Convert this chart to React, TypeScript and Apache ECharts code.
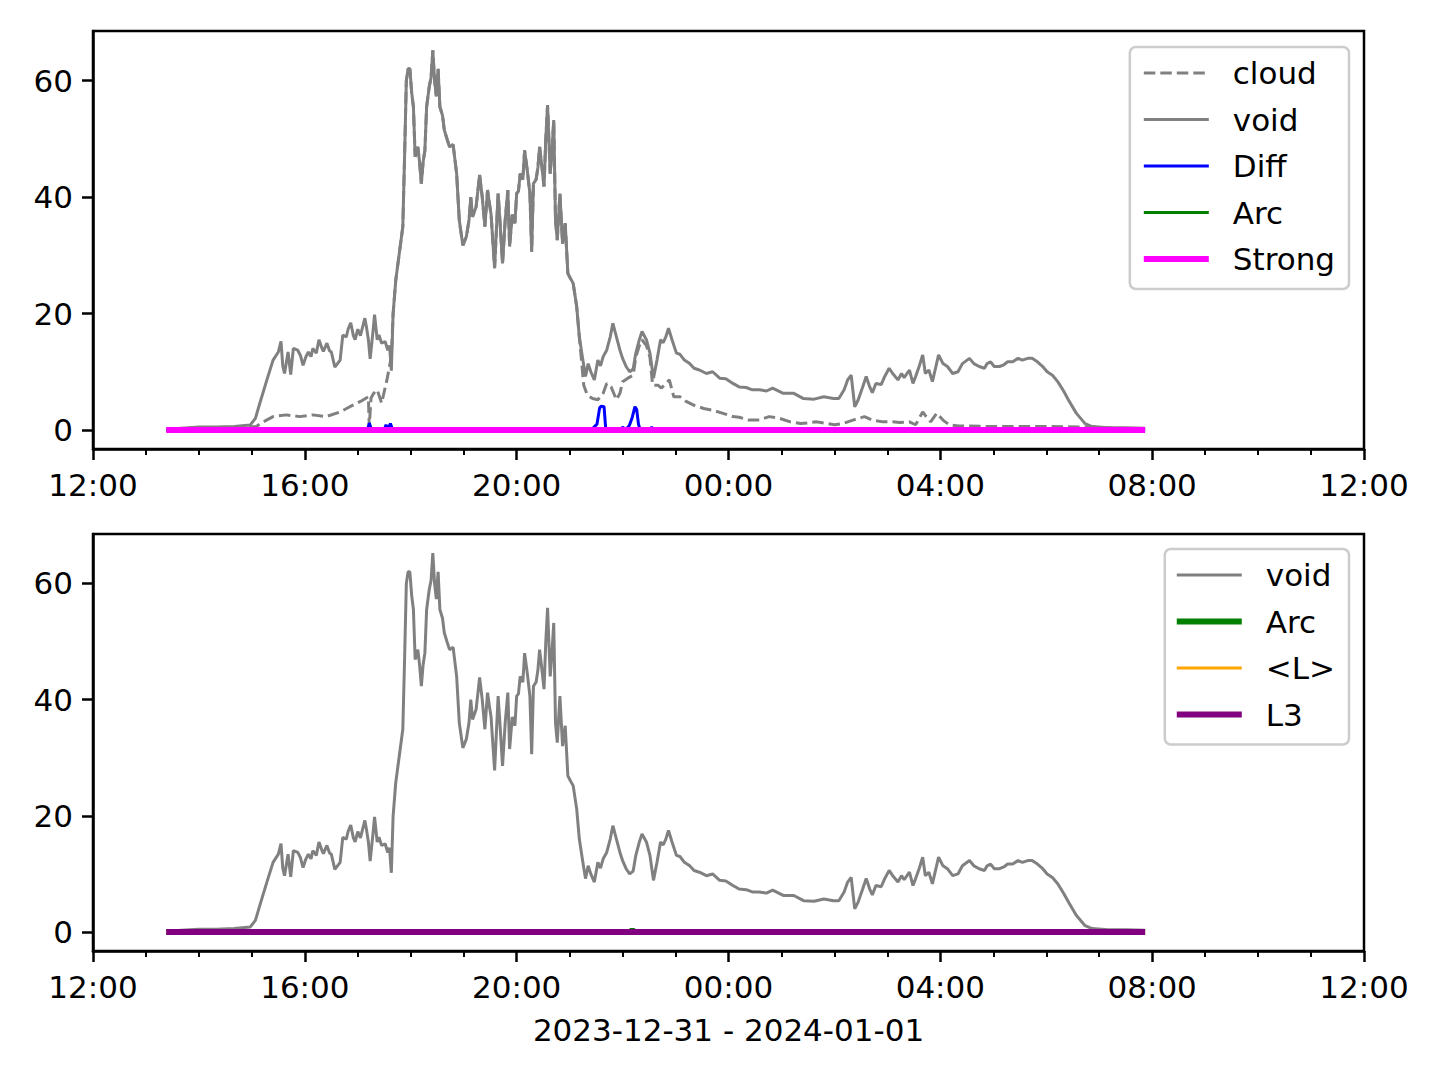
import React, { useEffect, useRef } from "react";
import * as echarts from "echarts";

// ---- data (time "HH:MM", value) ----
const voidData: [string, number][] = [
  ["13:23", 0.1], ["13:40", 0.3], ["14:00", 0.5], ["14:20", 0.5], ["14:40", 0.6], ["14:58", 0.85],
  ["15:04", 2.0], ["15:09", 4.6], ["15:17", 8.6], ["15:24", 12], ["15:30", 13.4], ["15:33", 15.2],
  ["15:35", 11], ["15:37", 9.7], ["15:41", 13.4], ["15:44", 9.5], ["15:47", 14], ["15:52", 13.7],
  ["15:55", 12.8], ["15:58", 11.1], ["16:01", 12.5], ["16:04", 13.4], ["16:07", 12.6], ["16:09", 14],
  ["16:13", 13.2], ["16:16", 15.5], ["16:19", 14.2], ["16:21", 13.5], ["16:25", 14.9], ["16:28", 13.6],
  ["16:30", 13.4], ["16:34", 10.8], ["16:37", 11.4], ["16:40", 12], ["16:43", 16.3], ["16:47", 16],
  ["16:49", 17.3], ["16:52", 18.4], ["16:55", 16.2], ["16:57", 15.5], ["17:00", 17.3], ["17:03", 16.2],
  ["17:06", 18], ["17:08", 19.2], ["17:10", 17.5], ["17:12", 15.5], ["17:14", 12.2], ["17:17", 16.6],
  ["17:19", 19.8], ["17:22", 15.5], ["17:24", 16.3], ["17:27", 14.9], ["17:31", 15.2], ["17:34", 13.7],
  ["17:36", 14.5], ["17:38", 10.2], ["17:40", 19.9], ["17:43", 25.7], ["17:47", 30.3], ["17:51", 34.9],
  ["17:53", 46.9], ["17:55", 60], ["17:57", 62], ["17:59", 62], ["18:01", 58], ["18:03", 55.5],
  ["18:05", 46.9], ["18:08", 48.6], ["18:10", 46], ["18:12", 42.3], ["18:14", 46], ["18:16", 48],
  ["18:18", 55.5], ["18:21", 59], ["18:23", 60.5], ["18:25", 65.2], ["18:27", 60], ["18:29", 57.3],
  ["18:31", 62], ["18:33", 55.5], ["18:36", 54], ["18:38", 51.5], ["18:41", 50], ["18:44", 48.6],
  ["18:48", 49], ["18:52", 44], ["18:55", 36], ["18:59", 31.7], ["19:03", 33.2], ["19:06", 36],
  ["19:08", 40], ["19:10", 36.6], ["19:14", 38.3], ["19:16", 41], ["19:18", 43.8], ["19:21", 40],
  ["19:24", 34.9], ["19:27", 41.2], ["19:29", 39], ["19:31", 37], ["19:35", 27.8], ["19:39", 40.6],
  ["19:41", 36], ["19:44", 28.6], ["19:47", 36], ["19:50", 41.2], ["19:52", 31.5], ["19:55", 37],
  ["19:58", 35.5], ["20:00", 40.6], ["20:02", 41], ["20:04", 44], ["20:07", 43], ["20:09", 48],
  ["20:12", 44.6], ["20:15", 40.6], ["20:17", 30.6], ["20:19", 42.3], ["20:22", 43], ["20:24", 45],
  ["20:26", 48.6], ["20:28", 46], ["20:31", 41.8], ["20:33", 50], ["20:35", 55.8], ["20:38", 44],
  ["20:40", 48], ["20:42", 53.2], ["20:44", 36], ["20:46", 32.6], ["20:49", 40.6], ["20:52", 32],
  ["20:55", 35.5], ["20:58", 26.9], ["21:01", 26], ["21:04", 25.2], ["21:08", 21.2], ["21:11", 16],
  ["21:15", 12], ["21:18", 9.2], ["21:21", 11.4], ["21:24", 10], ["21:28", 8.6], ["21:32", 12],
  ["21:35", 11], ["21:38", 12.6], ["21:42", 13.7], ["21:46", 16], ["21:49", 18.3], ["21:53", 16],
  ["21:57", 13.7], ["22:00", 12.3], ["22:04", 10.9], ["22:08", 10], ["22:12", 10.5], ["22:15", 13.2],
  ["22:19", 15.5], ["22:22", 16.9], ["22:27", 15.5], ["22:31", 13.2], ["22:35", 8.9], ["22:39", 12],
  ["22:43", 15.5], ["22:46", 15], ["22:49", 16], ["22:52", 17.5], ["22:56", 15.5], ["23:01", 13.2],
  ["23:05", 13], ["23:10", 12], ["23:16", 11.4], ["23:21", 10.6], ["23:27", 10.3], ["23:35", 9.7],
  ["23:42", 10], ["23:50", 8.9], ["23:57", 8.8], ["00:05", 8], ["00:12", 7.4], ["00:20", 7.3],
  ["00:27", 6.9], ["00:35", 6.9], ["00:43", 6.7], ["00:50", 7.2], ["00:58", 6.6], ["01:02", 6.3],
  ["01:14", 6.3], ["01:25", 5.4], ["01:37", 5.3], ["01:48", 5.7], ["01:59", 5.4], ["02:05", 5.4],
  ["02:11", 6.9], ["02:15", 8.6], ["02:19", 9.4], ["02:23", 4], ["02:27", 5.2], ["02:32", 7.4],
  ["02:36", 9.2], ["02:40", 7.4], ["02:43", 6.4], ["02:47", 8], ["02:53", 7.8], ["02:57", 9.2],
  ["03:02", 10.6], ["03:06", 9.7], ["03:12", 8.6], ["03:16", 9.7], ["03:19", 9], ["03:25", 10.3],
  ["03:29", 8], ["03:32", 9.2], ["03:36", 10.9], ["03:40", 12.9], ["03:43", 9.7], ["03:47", 10.3],
  ["03:51", 8.3], ["03:55", 10.9], ["03:58", 12.9], ["04:03", 11.4], ["04:08", 10.9], ["04:14", 9.7],
  ["04:20", 10], ["04:25", 11.4], ["04:33", 12.3], ["04:38", 11.4], ["04:44", 10.9], ["04:50", 10.6],
  ["04:53", 11.4], ["04:57", 11.7], ["05:01", 10.9], ["05:07", 10.9], ["05:12", 11.2], ["05:16", 11.7],
  ["05:22", 11.7], ["05:28", 12.3], ["05:33", 12], ["05:39", 12.3], ["05:44", 12.3], ["05:50", 11.7],
  ["05:56", 10.9], ["06:01", 10], ["06:07", 9.4], ["06:13", 8.3], ["06:20", 6.6], ["06:25", 5.2],
  ["06:34", 2.9], ["06:44", 1.1], ["06:52", 0.6], ["07:10", 0.4], ["07:30", 0.4], ["07:52", 0.3],
];

const cloudEarly: [string, number][] = [
  ["13:23", 0.1], ["14:00", 0.3], ["14:40", 0.4], ["15:05", 0.6], ["15:13", 1.4], ["15:24", 2.3],
  ["15:39", 2.6], ["15:54", 2.3], ["16:09", 2.6], ["16:24", 2.3], ["16:40", 3.1], ["16:51", 4.0],
  ["17:03", 4.9], ["17:12", 5.7], ["17:13", 0.6], ["17:15", 5.5], ["17:18", 6.3], ["17:22", 6.9],
  ["17:27", 4.6], ["17:33", 8.6], ["17:38", 12.6],
];

const cloudLate: [string, number][] = [
  ["21:16", 7.7], ["21:20", 6], ["21:26", 5.4], ["21:32", 5.2], ["21:38", 6.3], ["21:42", 8],
  ["21:47", 7.4], ["21:53", 5.2], ["21:57", 6.3], ["22:00", 8.3], ["22:06", 8.9], ["22:12", 9.4],
  ["22:15", 12.5], ["22:19", 14.5], ["22:22", 15.5], ["22:27", 14.5], ["22:31", 12.5], ["22:34", 7.7],
  ["22:40", 7.7], ["22:44", 7.2], ["22:53", 8.6], ["22:58", 5.7], ["23:05", 5.7], ["23:12", 4.9],
  ["23:20", 4.3], ["23:32", 3.7], ["23:42", 3.4], ["23:53", 2.9], ["00:05", 2.3], ["00:12", 2.2],
  ["00:23", 1.7], ["00:35", 1.7], ["00:46", 2.3], ["00:58", 2.0], ["01:10", 1.4], ["01:22", 1.1],
  ["01:40", 1.4], ["02:00", 0.9], ["02:09", 1.1], ["02:21", 1.7], ["02:34", 2.3], ["02:43", 1.7],
  ["02:55", 1.4], ["03:06", 1.4], ["03:14", 1.3], ["03:25", 1.4], ["03:32", 0.9], ["03:40", 3.1],
  ["03:44", 2.3], ["03:49", 1.4], ["03:56", 2.9], ["04:03", 1.7], ["04:10", 0.9], ["04:21", 0.7],
  ["05:00", 0.6], ["06:00", 0.6], ["06:50", 0.5], ["07:20", 0.3], ["07:52", 0.2],
];

const diffData: [string, number][] = [
  ["13:23", 0], ["17:11", 0], ["17:13", 1.2], ["17:15", 0.3], ["17:20", 0.2], ["17:30", 0.1],
  ["17:32", 0.9], ["17:34", 0.2], ["17:37", 1.1], ["17:39", 0.2], ["17:41", 0], ["21:24", 0],
  ["21:27", 0.4], ["21:31", 1.0], ["21:34", 3.8], ["21:36", 4.1], ["21:39", 4.0], ["21:41", 0],
  ["21:58", 0], ["22:00", 0.5], ["22:02", 0.2], ["22:06", 0.4], ["22:08", 0.9], ["22:11", 2.2],
  ["22:14", 4.0], ["22:16", 3.5], ["22:18", 1], ["22:20", 0], ["22:31", 0], ["22:33", 0.5],
  ["22:35", 0], ["07:52", 0],
];

const arcData: [string, number][] = [
  ["13:23", 0], ["22:09", 0], ["22:11", 0.35], ["22:13", 0], ["07:52", 0],
];

const zeroData: [string, number][] = [["13:23", 0], ["07:52", 0]];

const yTickValues = [0, 20, 40, 60];
const xLabel = "2023-12-31 - 2024-01-01";

// ---- helpers ----
const toHours = (t: string) => {
  const [h, m] = t.split(":").map(Number);
  const v = h + m / 60;
  return v < 12 ? v + 24 : v;
};
const pts = (arr: [string, number][]) => arr.map(([t, v]) => [toHours(t), v]);

// between 17:40 and 21:13 the cloud curve coincides with the void curve
const cloudData: [string, number][] = [
  ...cloudEarly,
  ...voidData.filter(([t]) => {
    const h = toHours(t);
    return h > toHours("17:38") && h < toHours("21:14");
  }),
  ...cloudLate,
];

const FONT = "DejaVu Sans";
const FS = 31;

function makeX(gridIndex: number, withName: boolean) {
  return {
    type: "value",
    gridIndex,
    min: 12,
    max: 36,
    interval: 4,
    name: withName ? xLabel : "",
    nameLocation: "middle",
    nameGap: 63,
    nameTextStyle: { fontSize: FS, fontFamily: FONT, color: "#000" },
    axisLine: { show: true, onZero: false, lineStyle: { color: "#000", width: 2.5 } },
    axisTick: { show: true, length: 11, lineStyle: { color: "#000", width: 2.5 } },
    minorTick: { show: true, splitNumber: 4, length: 6, lineStyle: { color: "#000", width: 2 } },
    axisLabel: {
      fontSize: FS,
      fontFamily: FONT,
      color: "#000",
      margin: 20,
      formatter: (v: number) => {
        const h = ((Math.round(v) % 24) + 24) % 24;
        return String(h).padStart(2, "0") + ":00";
      },
    },
    splitLine: { show: false },
    minorSplitLine: { show: false },
  };
}

function makeY(gridIndex: number) {
  return {
    type: "value",
    gridIndex,
    min: -3.26,
    max: 68.5,
    axisLine: { show: true, onZero: false, lineStyle: { color: "#000", width: 2.5 } },
    axisTick: { show: true, length: 11, customValues: yTickValues, lineStyle: { color: "#000", width: 2.5 } },
    axisLabel: {
      customValues: yTickValues,
      fontSize: FS,
      fontFamily: FONT,
      color: "#000",
      margin: 20,
    },
    splitLine: { show: false },
  };
}

function line(name: string, data: [string, number][], idx: number, color: string, width: number, type: any = "solid") {
  return {
    type: "line",
    name,
    xAxisIndex: idx,
    yAxisIndex: idx,
    data: pts(data),
    symbol: "none",
    showSymbol: false,
    clip: true,
    lineStyle: { color, width, type },
    itemStyle: { color },
    emphasis: { disabled: true },
  };
}

const legendBase = {
  orient: "vertical",
  right: 91,
  itemWidth: 65,
  itemHeight: 20,
  itemGap: 10.5,
  selectedMode: false,
  backgroundColor: "rgba(255,255,255,0.8)",
  borderColor: "#cccccc",
  borderWidth: 2.5,
  borderRadius: 6,
  lineStyle: { width: "inherit" },
  itemStyle: { opacity: 0, color: "transparent", borderWidth: 0 },
  formatter: (n: string) => n.trim(),
  textStyle: {
    fontSize: FS,
    fontFamily: FONT,
    color: "#000",
    lineHeight: 36,
    padding: [0, 0, 0, 19],
  },
};

export default function App() {
  const ref = useRef<HTMLDivElement>(null);
  useEffect(() => {
    if (!ref.current) return;
    const chart = echarts.init(ref.current, undefined, { renderer: "svg" });
    const option: any = {
      animation: false,
      backgroundColor: "#ffffff",
      grid: [
        { left: 93, right: 76, top: 31, height: 418, show: true, borderColor: "#000", borderWidth: 2.5, backgroundColor: "transparent" },
        { left: 93, right: 76, top: 534, height: 417, show: true, borderColor: "#000", borderWidth: 2.5, backgroundColor: "transparent" },
      ],
      xAxis: [makeX(0, false), makeX(1, true)],
      yAxis: [makeY(0), makeY(1)],
      legend: [
        { ...legendBase, top: 47, padding: [8, 14, 12, 11], data: ["cloud", "void", "Diff", "Arc", "Strong"] },
        { ...legendBase, top: 549, padding: [8, 14, 12, 9], data: ["void ", "Arc ", "<L>", "L3"] },
      ],
      series: [
        line("cloud", cloudData, 0, "#808080", 3, [11.5, 5]),
        line("void", voidData, 0, "#808080", 3),
        line("Diff", diffData, 0, "#0000ff", 3),
        line("Arc", arcData, 0, "#008000", 3),
        line("Strong", zeroData, 0, "#ff00ff", 6),
        line("void ", voidData, 1, "#808080", 3),
        line("Arc ", arcData, 1, "#008000", 6),
        line("<L>", zeroData, 1, "#ffa500", 3),
        line("L3", zeroData, 1, "#800080", 6),
      ],
    };
    chart.setOption(option);
    return () => chart.dispose();
  }, []);
  return (
    <div
      ref={ref}
      style={{ position: "absolute", left: 0, top: 0, width: 1440, height: 1080, background: "#fff" }}
    />
  );
}
